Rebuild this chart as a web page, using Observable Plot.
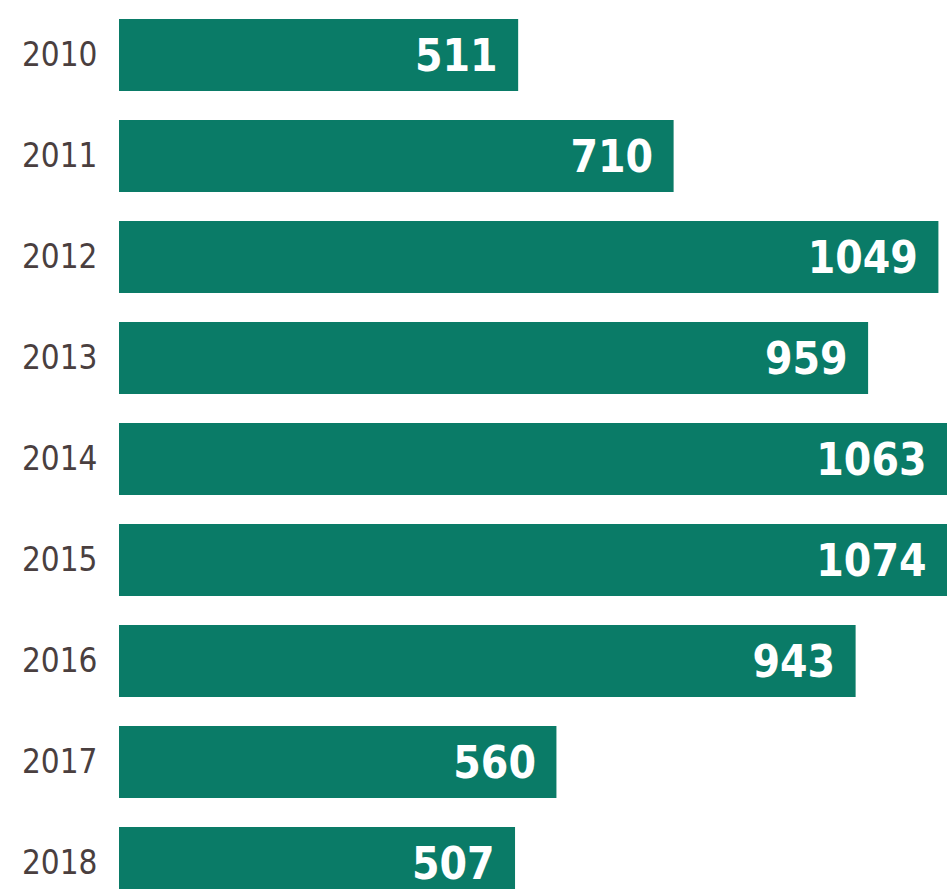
<!DOCTYPE html>
<html>
<head>
<meta charset="utf-8">
<script src="https://cdn.jsdelivr.net/npm/d3@7"></script>
<script src="https://cdn.jsdelivr.net/npm/@observablehq/plot@0.6"></script>
<style>
  html, body { margin: 0; padding: 0; background: #ffffff; overflow: hidden; }
  #chart svg { display: block; }
</style>
</head>
<body>
<div id="chart"></div>
<script>
const years = ["2010", "2011", "2012", "2013", "2014", "2015", "2016", "2017", "2018"];
const values = [511, 710, 1049, 959, 1063, 1074, 943, 560, 507];

const data = years.map((y, i) => ({year: y, value: values[i]}));
const font = "'Liberation Sans Narrow', 'DejaVu Sans Condensed', 'Arial Narrow', sans-serif";

const chart = Plot.plot({
  width: 947,
  height: 889,
  marginLeft: 119,
  marginRight: 0,
  marginTop: 0,
  marginBottom: 0,
  style: {fontFamily: font, background: "#ffffff", overflow: "hidden"},
  x: {domain: [0, 1060], clamp: true, axis: null},
  y: {domain: years, range: [17, 900], paddingInner: 0.29, paddingOuter: 0, axis: null},
  marks: [
    Plot.barX(data, {x: "value", y: "year", fill: "#0a7b67"}),
    Plot.axisY({
      tickSize: 0,
      tickPadding: 22,
      fontSize: 33,
      fill: "#4a3f3f",
      fontFamily: font,
      label: null
    }),
    Plot.text(data, {
      x: "value",
      y: "year",
      text: d => String(d.value),
      textAnchor: "end",
      dx: -21,
      dy: 1,
      fill: "#ffffff",
      fontSize: 44,
      fontWeight: "bold",
      fontFamily: font
    })
  ]
});
document.getElementById("chart").appendChild(chart);
</script>
</body>
</html>
